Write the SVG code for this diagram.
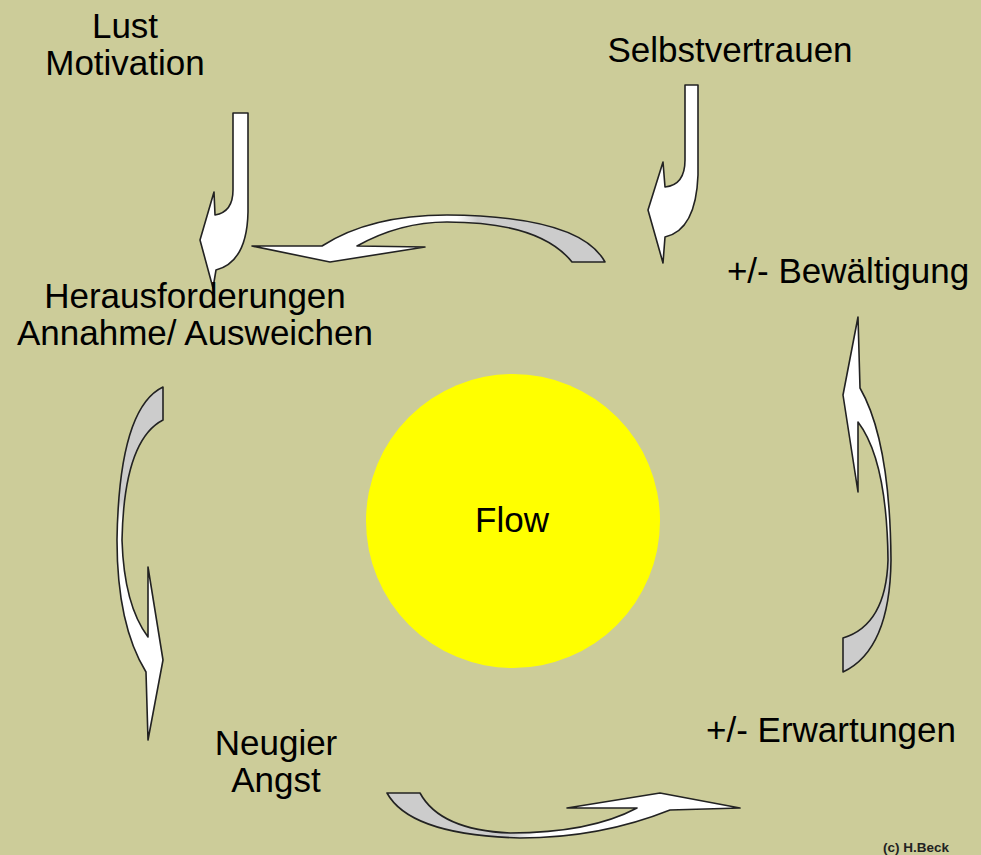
<svg xmlns="http://www.w3.org/2000/svg" width="981" height="855" viewBox="0 0 981 855">
<defs>
<style>
.t{font-family:"Liberation Sans",Arial,sans-serif;font-size:35px;fill:#000;text-anchor:middle}
.arr{stroke:#222;stroke-width:1.6;stroke-linejoin:round}
.w{fill:#fff}
</style>
<linearGradient id="gTop" x1="0" y1="0" x2="1" y2="0">
<stop offset="0" stop-color="#fff"/><stop offset="0.58" stop-color="#fff"/><stop offset="0.64" stop-color="#cccccc"/><stop offset="1" stop-color="#cccccc"/>
</linearGradient>
<linearGradient id="gRight" x1="0" y1="0" x2="0" y2="1">
<stop offset="0" stop-color="#fff"/><stop offset="0.6" stop-color="#fff"/><stop offset="0.66" stop-color="#cccccc"/><stop offset="1" stop-color="#cccccc"/>
</linearGradient>
<linearGradient id="gLeft" x1="0" y1="0" x2="0" y2="1">
<stop offset="0" stop-color="#cccccc"/><stop offset="0.32" stop-color="#cccccc"/><stop offset="0.38" stop-color="#fff"/><stop offset="1" stop-color="#fff"/>
</linearGradient>
<linearGradient id="gBottom" x1="0" y1="0" x2="1" y2="0">
<stop offset="0" stop-color="#cccccc"/><stop offset="0.36" stop-color="#cccccc"/><stop offset="0.42" stop-color="#fff"/><stop offset="1" stop-color="#fff"/>
</linearGradient>
</defs>
<rect width="981" height="855" fill="#cccc99"/>

<g id="connectors">
<path id="arrow-lust" class="arr w" d="M233,113 L248,113 L248,212 Q247,262 216,270 L213,288 L200,240 L214,192 L215,215 Q233,212 233,190 Z"/>
<path id="arrow-selbst" class="arr w" d="M685,85 L698,85 L698,175 Q696,230 665,237 L663,263 L648,210 L663,162 L665,187 Q685,185 685,160 Z"/>
<path id="arrow-top" class="arr" fill="url(#gTop)" d="M252,246 L330,262 L425,247 L357,246 Q400,222 447,222 Q540,222 572,262 L605,262 Q580,216 447,215 Q370,215 322,246 Z"/>
<path id="arrow-right" class="arr" fill="url(#gRight)" d="M858,317 L843,395 L858,492 L858,422 Q887,460 888,560 Q886,625 843,638 L843,672 Q890,650 891,560 Q890,440 860,388 Z"/>
<path id="arrow-left" class="arr" fill="url(#gLeft)" d="M163,387 L163,420 Q124,440 122,540 Q124,605 148,637 L148,567 L163,660 L148,740 L146,672 Q117,625 117,540 Q119,408 163,387 Z"/>
<path id="arrow-bottom" class="arr" fill="url(#gBottom)" d="M387,793 L420,793 Q440,830 510,833 Q590,833 637,808 L567,808 L660,793 L740,808 L670,810 Q600,838 520,838 Q410,835 387,793 Z"/>
</g>

<g id="node-flow">
<circle cx="513" cy="521" r="147" fill="#ffff00"/>
<text class="t" x="512" y="532">Flow</text>
</g>
<g id="node-lust">
<text class="t" x="125" y="38">Lust</text>
<text class="t" x="125" y="75">Motivation</text>
</g>
<g id="node-selbstvertrauen">
<text class="t" x="730" y="62">Selbstvertrauen</text>
</g>
<g id="node-bewaeltigung">
<text class="t" x="848" y="283">+/- Bewältigung</text>
</g>
<g id="node-herausforderungen">
<text class="t" x="195" y="308">Herausforderungen</text>
<text class="t" x="195" y="345">Annahme/ Ausweichen</text>
</g>
<g id="node-neugier">
<text class="t" x="276" y="755">Neugier</text>
<text class="t" x="276" y="792">Angst</text>
</g>
<g id="node-erwartungen">
<text class="t" x="831" y="742">+/- Erwartungen</text>
</g>
<text x="883" y="852" style="font-family:'Liberation Sans',Arial,sans-serif;font-size:13.5px;font-weight:bold;fill:#222">(c) H.Beck</text>
</svg>
